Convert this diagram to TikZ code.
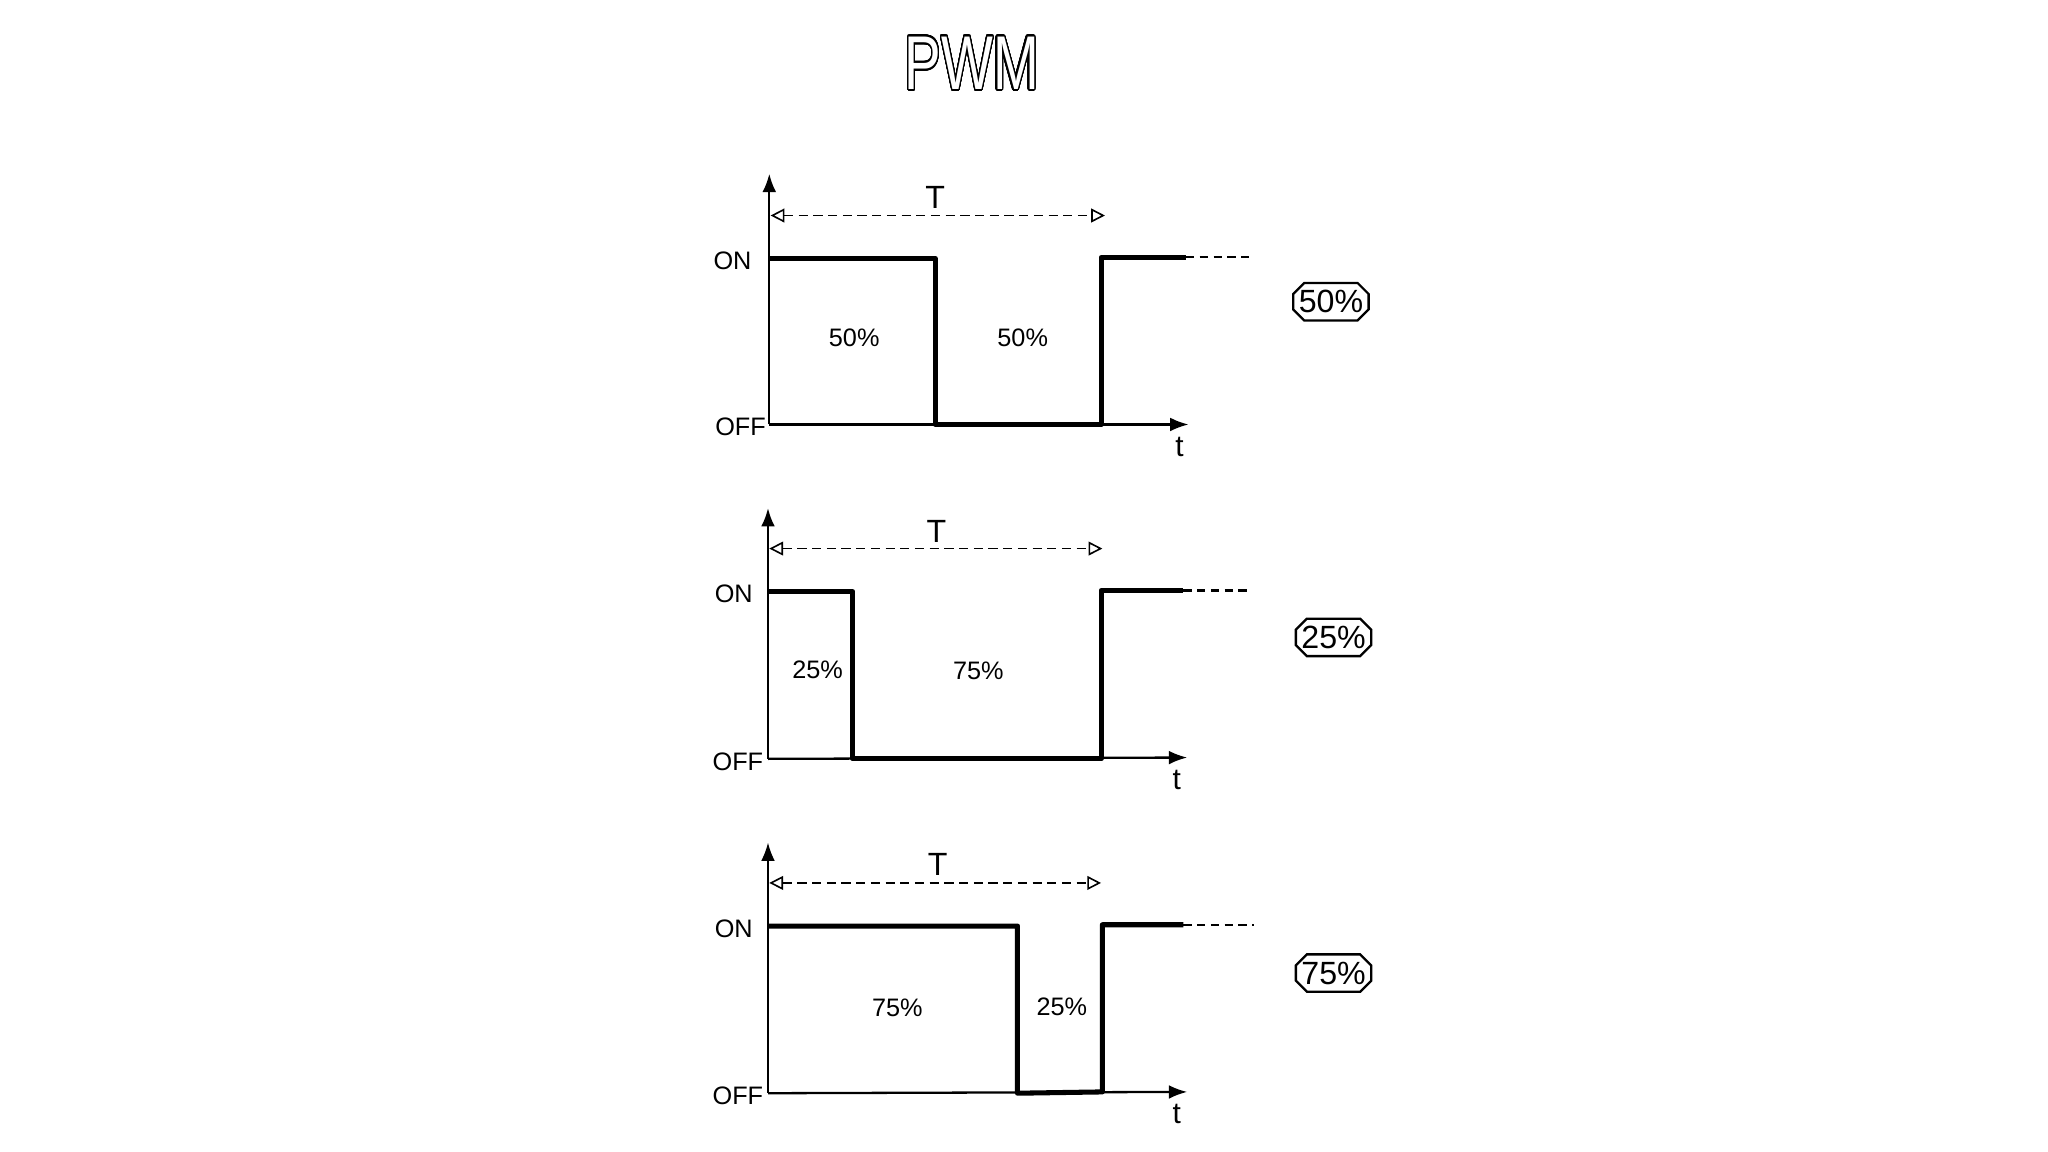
\documentclass[tikz,border=0pt]{standalone}
\usepackage{fontspec}
\setmainfont{Liberation Sans}
\usepackage{contour}
\contourlength{0.38pt}
\contournumber{40}
\usetikzlibrary{arrows.meta,shapes.misc}

\begin{document}
\begin{tikzpicture}[
    x=0.01cm, y=-0.01cm,
    title/.style={font=\fontsize{16.6}{18}\selectfont, inner sep=0pt},
    lvl/.style={font=\fontsize{5.5}{6}\selectfont, anchor=east, inner sep=0pt},
    pct/.style={font=\fontsize{5.5}{6}\selectfont, inner sep=0pt},
    per/.style={font=\fontsize{7}{8}\selectfont, inner sep=0pt},
    tlbl/.style={font=\fontsize{6.5}{7}\selectfont, inner sep=0pt},
    duty/.style={draw, chamfered rectangle, chamfered rectangle xsep=1.2pt,
                 chamfered rectangle ysep=1.2pt, inner xsep=0pt, inner ysep=0.4pt,
                 line width=0.5pt, font=\fontsize{7}{8}\selectfont},
    axis/.style={-{Latex[length=4pt,width=3pt]}, line width=0.5pt},
    sig/.style={line width=1.1pt, line join=round},
    tail/.style={line width=0.5pt, dash pattern=on 1.8pt off 1.2pt},
    period/.style={{Triangle[open,length=3pt,width=3pt]}-{Triangle[open,length=3pt,width=3pt]},
                   line width=0.35pt, dash pattern=on 2pt off 1.2pt},
  ]
  \useasboundingbox (0,0) rectangle (1568,882);

  \node[title] (title) at (744,49)
    {\scalebox{0.72}[1]{\contour{black}{\textcolor{white}{PWM}}}};

  %% ================================================================
  %% Panel A: 50% duty cycle
  %% ================================================================
  \coordinate (Ao)   at (589,325);
  \coordinate (Ay)   at (589,133);
  \coordinate (At)   at (910,325);
  \coordinate (Aon)  at (589,198);
  \coordinate (Afh)  at (716,198);
  \coordinate (Afl)  at (716,325);
  \coordinate (Arl)  at (843,325);
  \coordinate (Arh)  at (843,197);
  \coordinate (Aend) at (908,197);
  \coordinate (Adot) at (960,197);
  \coordinate (ATl)  at (590,165);
  \coordinate (ATr)  at (846,165);

  \draw[axis] (Ao) -- (Ay);
  \draw[axis] (Ao) -- (At);
  \draw[sig]  (Aon) -- (Afh) -- (Afl) -- (Arl) -- (Arh) -- (Aend);
  \draw[tail] (Aend) -- (Adot);
  \draw[period] (ATl) -- (ATr);

  \node[per]  (AT)    at (716,151) {T};
  \node[lvl]  (Aonl)  at (576,200) {ON};
  \node[lvl]  (Aoffl) at (587,327) {OFF};
  \node[tlbl] (Atl)   at (903,342) {t};
  \node[pct]  (Ap1)   at (654,259) {50\%};
  \node[pct]  (Ap2)   at (783,259) {50\%};
  \node[duty] (Ad)    at (1019,231) {50\%};

  %% ================================================================
  %% Panel B: 25% duty cycle
  %% ================================================================
  \coordinate (Bo)   at (588,581);
  \coordinate (By)   at (588,389);
  \coordinate (Bt)   at (909,580);
  \coordinate (Bon)  at (588,453);
  \coordinate (Bfh)  at (653,453);
  \coordinate (Bfl)  at (653,581);
  \coordinate (Brl)  at (843,581);
  \coordinate (Brh)  at (843,452);
  \coordinate (Bend) at (906,452);
  \coordinate (Bdot) at (958,452);
  \coordinate (BTl)  at (589,420);
  \coordinate (BTr)  at (844,420);

  \draw[axis] (Bo) -- (By);
  \draw[axis] (Bo) -- (Bt);
  \draw[sig]  (Bon) -- (Bfh) -- (Bfl) -- (Brl) -- (Brh) -- (Bend);
  \draw[tail] (Bend) -- (Bdot);
  \draw[period] (BTl) -- (BTr);

  \node[per]  (BT)    at (717,407) {T};
  \node[lvl]  (Bonl)  at (577,455) {ON};
  \node[lvl]  (Boffl) at (585,583) {OFF};
  \node[tlbl] (Btl)   at (901,597) {t};
  \node[pct]  (Bp1)   at (626,513) {25\%};
  \node[pct]  (Bp2)   at (749,514) {75\%};
  \node[duty] (Bd)    at (1021,488) {25\%};

  %% ================================================================
  %% Panel C: 75% duty cycle
  %% ================================================================
  \coordinate (Co)   at (588,837);
  \coordinate (Cy)   at (588,645);
  \coordinate (Ct)   at (909,836);
  \coordinate (Con)  at (588,709);
  \coordinate (Cfh)  at (779,709);
  \coordinate (Cfl)  at (779,837);
  \coordinate (Crl)  at (844,836);
  \coordinate (Crh)  at (844,708);
  \coordinate (Cend) at (906,708);
  \coordinate (Cdot) at (960,708);
  \coordinate (CTl)  at (589,676);
  \coordinate (CTr)  at (843,676);

  \draw[axis] (Co) -- (Cy);
  \draw[axis] (Co) -- (Ct);
  \draw[sig]  (Con) -- (Cfh) -- (Cfl) -- (Crl) -- (Crh) -- (Cend);
  \draw[tail] (Cend) -- (Cdot);
  \draw[period] (CTl) -- (CTr);

  \node[per]  (CT)    at (718,662) {T};
  \node[lvl]  (Conl)  at (577,711) {ON};
  \node[lvl]  (Coffl) at (585,839) {OFF};
  \node[tlbl] (Ctl)   at (901,853) {t};
  \node[pct]  (Cp1)   at (687,772) {75\%};
  \node[pct]  (Cp2)   at (813,771) {25\%};
  \node[duty] (Cd)    at (1021,745) {75\%};

\end{tikzpicture}
\end{document}
